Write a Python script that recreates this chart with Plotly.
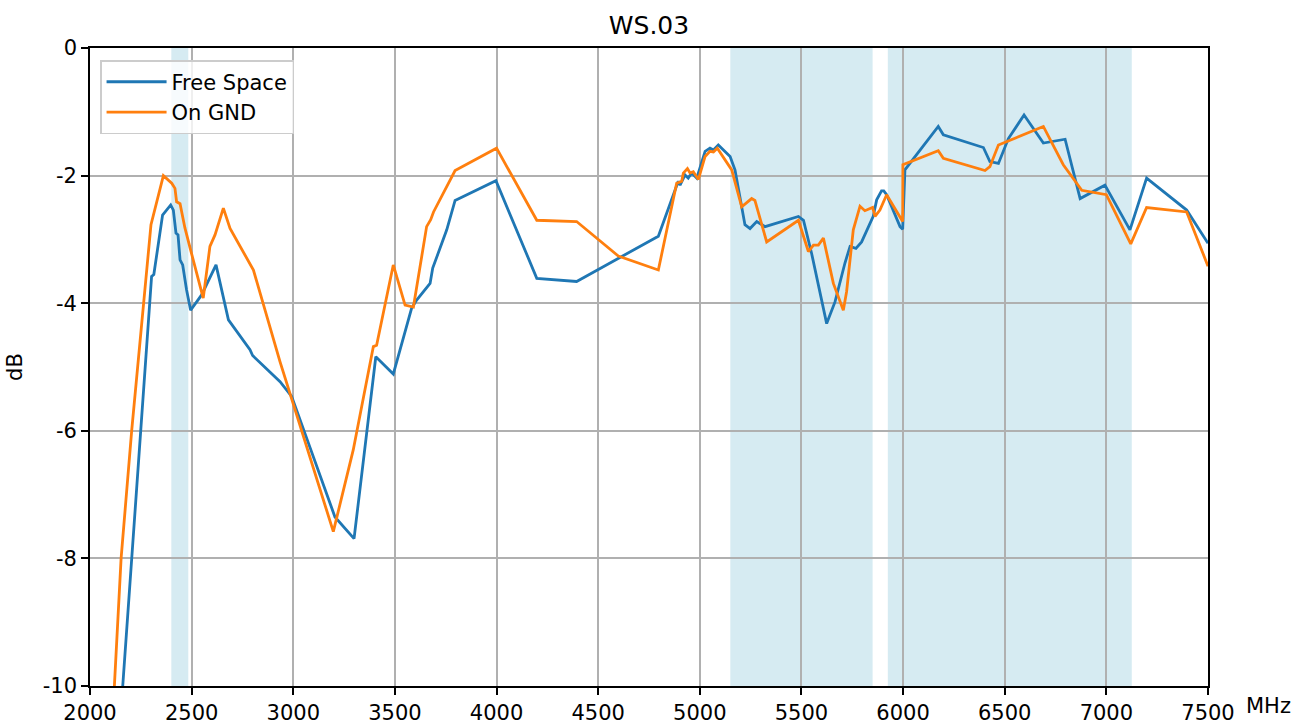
import plotly.graph_objects as go

# ---- data ----
fs_freq = [2150, 2161, 2205, 2249, 2279, 2303, 2314, 2357, 2397, 2410, 2423, 2433, 2443, 2456, 2475, 2495,
           2549, 2620, 2681, 2787, 2800, 2935, 2992, 3205, 3299, 3406, 3492, 3582, 3607, 3656, 3673, 3686,
           3755, 3796, 3997, 4198, 4394, 4796, 4894, 4903, 4927, 4943, 4960, 4985, 5026, 5050, 5067, 5091,
           5149, 5173, 5222, 5247, 5280, 5321, 5485, 5510, 5550, 5624, 5665, 5714, 5739, 5768, 5796, 5853,
           5870, 5894, 5905, 5919, 5985, 5998, 6009, 6173, 6198, 6395, 6427, 6469, 6518, 6595, 6690, 6797,
           6871, 6993, 7116, 7198, 7395, 7500]
fs_db = [-10.5, -10.0, -8.0, -6.0, -4.73, -3.58, -3.55, -2.62, -2.46, -2.54, -2.90, -2.93, -3.32, -3.40, -3.79, -4.11,
         -3.87, -3.40, -4.26, -4.73, -4.82, -5.23, -5.46, -7.35, -7.69, -4.84, -5.11, -4.08, -3.95, -3.77, -3.69, -3.45,
         -2.85, -2.39, -2.08, -3.61, -3.66, -2.95, -2.09, -2.15, -1.99, -2.04, -1.96, -2.04, -1.62, -1.57, -1.60, -1.52,
         -1.70, -1.91, -2.77, -2.83, -2.72, -2.80, -2.64, -2.70, -3.22, -4.32, -3.98, -3.37, -3.11, -3.14, -3.04, -2.64,
         -2.38, -2.24, -2.24, -2.30, -2.80, -2.84, -1.91, -1.23, -1.36, -1.56, -1.78, -1.81, -1.42, -1.05, -1.49, -1.43,
         -2.36, -2.15, -2.85, -2.04, -2.54, -3.06]

gnd_freq = [2110, 2120, 2153, 2205, 2243, 2300, 2361, 2402, 2418, 2426, 2443, 2467, 2492, 2557, 2590, 2615,
            2656, 2689, 2804, 2935, 3197, 3295, 3394, 3410, 3492, 3550, 3591, 3656, 3676, 3690, 3796, 4000,
            4198, 4394, 4599, 4796, 4886, 4911, 4919, 4939, 4952, 4968, 4993, 5026, 5050, 5067, 5086, 5132,
            5157, 5206, 5255, 5271, 5329, 5485, 5534, 5559, 5583, 5608, 5657, 5706, 5722, 5755, 5788, 5812,
            5850, 5862, 5886, 5919, 5985, 5998, 5999, 6173, 6198, 6403, 6427, 6469, 6690, 6788, 6879, 7000,
            7120, 7198, 7395, 7500]
gnd_db = [-10.6, -10.0, -8.0, -6.0, -4.73, -2.77, -2.00, -2.12, -2.20, -2.41, -2.44, -2.82, -3.13, -3.92, -3.11, -2.93,
          -2.51, -2.83, -3.48, -4.92, -7.58, -6.30, -4.68, -4.66, -3.40, -4.03, -4.06, -2.80, -2.69, -2.57, -1.92, -1.57,
          -2.70, -2.72, -3.26, -3.48, -2.12, -2.09, -1.96, -1.89, -1.96, -1.94, -2.06, -1.70, -1.62, -1.63, -1.57, -1.78,
          -1.91, -2.49, -2.36, -2.39, -3.04, -2.70, -3.19, -3.09, -3.09, -2.98, -3.69, -4.11, -3.82, -2.85, -2.48, -2.55,
          -2.50, -2.64, -2.54, -2.30, -2.64, -2.72, -1.83, -1.61, -1.73, -1.92, -1.86, -1.52, -1.23, -1.83, -2.23, -2.30,
          -3.07, -2.50, -2.57, -3.42]

bands = [(2400, 2483.5), (5150, 5850), (5925, 7125)]

x_ticks = [2000, 2500, 3000, 3500, 4000, 4500, 5000, 5500, 6000, 6500, 7000, 7500]
y_ticks = [0, -2, -4, -6, -8, -10]
y_tick_labels = ["0", "-2", "-4", "-6", "-8", "-10"]

FONT = "DejaVu Sans"
FS = 21

fig = go.Figure()
fig.add_trace(go.Scatter(x=fs_freq, y=fs_db, mode="lines", name="Free Space",
                         line=dict(color="#1f77b4", width=2.8)))
fig.add_trace(go.Scatter(x=gnd_freq, y=gnd_db, mode="lines", name="On GND",
                         line=dict(color="#ff7f0e", width=2.8)))

for lo, hi in bands:
    fig.add_shape(type="rect", xref="x", yref="paper", x0=lo, x1=hi, y0=0, y1=1,
                  fillcolor="rgba(173,216,230,0.5)", line=dict(width=0), layer="below")

fig.update_layout(
    width=1305, height=724,
    margin=dict(l=90, r=97, t=48, b=38, autoexpand=False),
    paper_bgcolor="white", plot_bgcolor="white",
    font=dict(family=FONT, size=FS, color="black"),
    title=dict(text="WS.03", x=(90 + 1208) / 2 / 1305, xanchor="center", y=1 - 25 / 724, yanchor="middle",
               font=dict(size=25, family=FONT)),
    showlegend=True,
    legend=dict(x=0.009, y=0.981, xanchor="left", yanchor="top",
                bgcolor="rgba(255,255,255,0.8)", bordercolor="#cccccc", borderwidth=1.5,
                font=dict(size=FS, family=FONT), itemwidth=60, tracegroupgap=2),
)
fig.update_xaxes(range=[2000, 7500], tickvals=x_ticks, ticktext=[str(v) for v in x_ticks],
                 showgrid=True, gridcolor="#b0b0b0", gridwidth=1.6,
                 showline=True, linecolor="black", linewidth=1.6, mirror=True,
                 ticks="outside", ticklen=7, tickwidth=1.6, tickcolor="black",
                 zeroline=False, tickfont=dict(size=FS), automargin=False)
fig.update_yaxes(range=[-10, 0], tickvals=y_ticks, ticktext=y_tick_labels,
                 showgrid=True, gridcolor="#b0b0b0", gridwidth=1.6,
                 showline=True, linecolor="black", linewidth=1.6, mirror=True,
                 ticks="outside", ticklen=7, tickwidth=1.6, tickcolor="black",
                 zeroline=False, tickfont=dict(size=FS), automargin=False,
                 title=dict(text="dB", font=dict(size=FS), standoff=14))

fig.add_annotation(text="MHz", xref="paper", yref="paper", x=1.0, y=0, xanchor="left", yanchor="top",
                   xshift=36, yshift=-6, showarrow=False, font=dict(size=FS, family=FONT))

fig.write_html("out.html", config={"displayModeBar": False},
               post_script="document.body.style.margin='0';document.body.style.overflow='hidden';")
